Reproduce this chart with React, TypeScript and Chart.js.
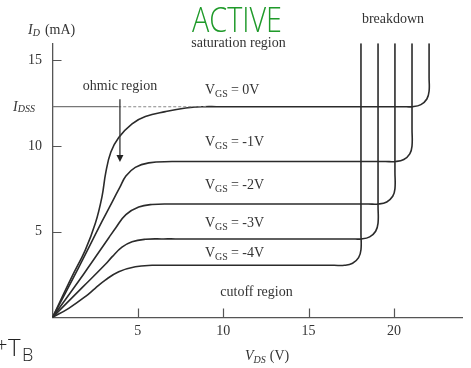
import React, { useEffect, useRef } from 'react';
import { Chart, registerables } from 'chart.js';

Chart.register(...registerables);

// ---- data (V_DS in volts, I_D in mA) ----
const xTickValues = [5, 10, 15, 20];
const yTickValues = [5, 10, 15];
const xMax = 24;
const yMax = 16;
const idss = 12.3;

const vgs0: number[][] = [
  [0, 0], [1.14, 2.38], [1.92, 3.93], [2.51, 5.49], [2.9, 7.05], [3.12, 8.45], [3.42, 9.65],
  [3.88, 10.5], [4.66, 11.3], [5.44, 11.72], [6.61, 12.01], [7.8, 12.22], [8.9, 12.3],
  [9.6, 12.3], [20.5, 12.3], [21.1, 12.3], [21.58, 12.42], [21.93, 12.75], [22.06, 13.2],
  [22.06, 14], [22.06, 16],
];
const vgs1: number[][] = [
  [0, 0], [1.5, 2.85], [2.9, 5.6], [3.5, 6.75], [3.95, 7.6], [4.3, 8.25], [4.85, 8.76],
  [5.64, 9.02], [7.0, 9.1], [7.7, 9.1], [19.5, 9.1], [20.1, 9.1], [20.58, 9.22],
  [20.93, 9.55], [21.06, 10.0], [21.06, 11], [21.06, 16],
];
const vgs2: number[][] = [
  [0, 0], [1.84, 2.55], [3.3, 4.65], [3.7, 5.22], [4.3, 6.0], [5.05, 6.44], [5.83, 6.59],
  [7.0, 6.62], [7.7, 6.62], [18.5, 6.62], [19.1, 6.62], [19.58, 6.74], [19.93, 7.07],
  [20.06, 7.5], [20.06, 8.5], [20.06, 16],
];
const vgs3: number[][] = [
  [0, 0], [1.75, 1.75], [3.1, 3.1], [3.5, 3.55], [4.07, 4.1], [4.66, 4.42], [5.44, 4.56],
  [6.5, 4.58], [7.2, 4.58], [17.5, 4.58], [18.1, 4.58], [18.58, 4.7], [18.93, 5.03],
  [19.07, 5.5], [19.07, 6.5], [19.07, 16],
];
const vgs4: number[][] = [
  [0, 0], [0.95, 0.53], [1.92, 1.21], [2.5, 1.7], [3.09, 2.18], [3.88, 2.67], [4.85, 2.96],
  [5.83, 3.04], [7.0, 3.04], [7.7, 3.04], [16.5, 3.04], [17.1, 3.04], [17.58, 3.16],
  [17.93, 3.49], [18.07, 3.95], [18.07, 4.9], [18.07, 16],
];
const idssSolid: number[][] = [[0, idss], [3.85, idss]];
const idssDashed: number[][] = [[3.85, idss], [9.0, idss]];
const ohmicArrow = { x: 3.95, yFrom: 12.73, yTo: 9.07 };

const vgsLabels = ['= 0V', '= -1V', '= -2V', '= -3V', '= -4V'];
const vgsLabelBaselines = [94, 146, 189, 227, 257];

const SERIF = "'Liberation Serif', 'Times New Roman', serif";
const TEXT = '#333';

const toPts = (a: number[][]) => a.map(([x, y]) => ({ x, y }));

type Part = { text: string; font: string; dy?: number; gap?: number };
function drawParts(ctx: CanvasRenderingContext2D, x: number, y: number, parts: Part[]) {
  let cx = x;
  ctx.textAlign = 'left';
  ctx.textBaseline = 'alphabetic';
  for (const p of parts) {
    ctx.font = p.font;
    ctx.fillText(p.text, cx, y + (p.dy || 0));
    cx += ctx.measureText(p.text).width + (p.gap || 0);
  }
}

const decorPlugin = {
  id: 'decor',
  afterDraw(chart: any) {
    const ctx: CanvasRenderingContext2D = chart.ctx;
    const xs = chart.scales.x;
    const ys = chart.scales.y;
    const area = chart.chartArea;
    ctx.save();
    // inner tick marks
    ctx.strokeStyle = '#555';
    ctx.lineWidth = 1.2;
    ctx.beginPath();
    for (const v of xTickValues) {
      const px = Math.round(xs.getPixelForValue(v)) + 0.5;
      ctx.moveTo(px, area.bottom);
      ctx.lineTo(px, area.bottom - 9);
    }
    for (const v of yTickValues) {
      const py = Math.round(ys.getPixelForValue(v)) + 0.5;
      ctx.moveTo(area.left, py);
      ctx.lineTo(area.left + 9, py);
    }
    ctx.stroke();

    // ohmic arrow
    const ax = xs.getPixelForValue(ohmicArrow.x);
    const ay0 = ys.getPixelForValue(ohmicArrow.yFrom);
    const ay1 = ys.getPixelForValue(ohmicArrow.yTo);
    ctx.strokeStyle = '#333';
    ctx.lineWidth = 1.3;
    ctx.beginPath();
    ctx.moveTo(ax, ay0);
    ctx.lineTo(ax, ay1 - 6);
    ctx.stroke();
    ctx.fillStyle = '#222';
    ctx.beginPath();
    ctx.moveTo(ax - 3.5, ay1 - 7);
    ctx.lineTo(ax + 3.5, ay1 - 7);
    ctx.lineTo(ax, ay1);
    ctx.closePath();
    ctx.fill();

    // texts
    ctx.fillStyle = TEXT;
    const f14 = `14px ${SERIF}`;
    const i14 = `italic 14px ${SERIF}`;
    const f10 = `10px ${SERIF}`;
    const i10 = `italic 10px ${SERIF}`;

    drawParts(ctx, 28, 33.5, [
      { text: 'I', font: i14 },
      { text: 'D', font: i10, dy: 2, gap: 5 },
      { text: '(mA)', font: f14 },
    ]);
    drawParts(ctx, 13, 111, [
      { text: 'I', font: i14 },
      { text: 'DSS', font: i10, dy: 1 },
    ]);
    drawParts(ctx, 245, 359.5, [
      { text: 'V', font: i14 },
      { text: 'DS', font: i10, dy: 3, gap: 4 },
      { text: '(V)', font: f14 },
    ]);

    ctx.textAlign = 'center';
    ctx.textBaseline = 'alphabetic';
    ctx.font = f14;
    ctx.fillText('ohmic region', 120, 89.5);
    ctx.fillText('saturation region', 238.5, 47);
    ctx.fillText('breakdown', 393, 23);
    ctx.fillText('cutoff region', 256.5, 295.5);

    vgsLabels.forEach((lab, i) => {
      drawParts(ctx, 205, vgsLabelBaselines[i], [
        { text: 'V', font: f14 },
        { text: 'GS', font: f10, dy: 3, gap: 3 },
        { text: lab, font: f14 },
      ]);
    });

    // handwritten notes
    ctx.save();
    ctx.fillStyle = '#1f9a2a';
    ctx.font = "300 34px 'Open Sans', sans-serif";
    const w = ctx.measureText('ACTIVE').width;
    ctx.translate(192, 32);
    ctx.scale(90 / w, 1);
    ctx.textAlign = 'left';
    ctx.fillText('ACTIVE', 0, 0);
    ctx.restore();

    ctx.fillStyle = '#222';
    ctx.textAlign = 'left';
    ctx.font = "300 20px 'Open Sans', sans-serif";
    ctx.fillText('+', -4, 352);
    ctx.font = "300 24px 'Open Sans', sans-serif";
    ctx.fillText('T', 8, 356);
    ctx.font = "300 18px 'Open Sans', sans-serif";
    ctx.fillText('B', 22, 361);
    ctx.restore();
  },
};

export default function App() {
  const ref = useRef<HTMLCanvasElement | null>(null);
  useEffect(() => {
    if (!ref.current) return;
    const curve = (d: number[][]) => ({
      data: toPts(d),
      borderColor: '#2b2b2b',
      borderWidth: 1.6,
      pointRadius: 0,
      tension: 0.42,
      fill: false,
    });
    const chart = new Chart(ref.current, {
      type: 'line',
      data: {
        datasets: [
          { ...curve(idssSolid), borderColor: '#777', borderWidth: 1.2, tension: 0 },
          { ...curve(idssDashed), borderColor: '#888', borderWidth: 1.1, tension: 0, borderDash: [3, 2] },
          curve(vgs0),
          curve(vgs1),
          curve(vgs2),
          curve(vgs3),
          curve(vgs4),
        ] as any,
      },
      options: {
        animation: false,
        responsive: false,
        maintainAspectRatio: false,
        layout: { padding: { left: 0, top: 43.3, right: 8.8, bottom: 0 } },
        plugins: { legend: { display: false }, tooltip: { enabled: false } },
        scales: {
          x: {
            type: 'linear',
            min: 0,
            max: xMax,
            afterFit: (s: any) => { s.height = 50.6; },
            afterBuildTicks: (s: any) => { s.ticks = xTickValues.map((v) => ({ value: v })); },
            grid: { display: false, drawTicks: false },
            border: { display: true, color: '#555', width: 1.3 },
            ticks: { padding: 6, color: TEXT, font: { family: SERIF, size: 14 }, maxRotation: 0, autoSkip: false },
          },
          y: {
            type: 'linear',
            min: 0,
            max: yMax,
            afterFit: (s: any) => { s.width = 52.5; },
            afterBuildTicks: (s: any) => { s.ticks = yTickValues.map((v) => ({ value: v })); },
            grid: { display: false, drawTicks: false },
            border: { display: true, color: '#555', width: 1.3 },
            ticks: { padding: 10.5, color: TEXT, font: { family: SERIF, size: 14 }, autoSkip: false },
          },
        },
      } as any,
      plugins: [decorPlugin],
    });
    return () => chart.destroy();
  }, []);
  return (
    <div style={{ position: 'absolute', left: 0, top: 0, width: 471, height: 368, background: '#fff' }}>
      <canvas ref={ref} width={471} height={368} style={{ width: 471, height: 368, display: 'block' }} />
    </div>
  );
}
